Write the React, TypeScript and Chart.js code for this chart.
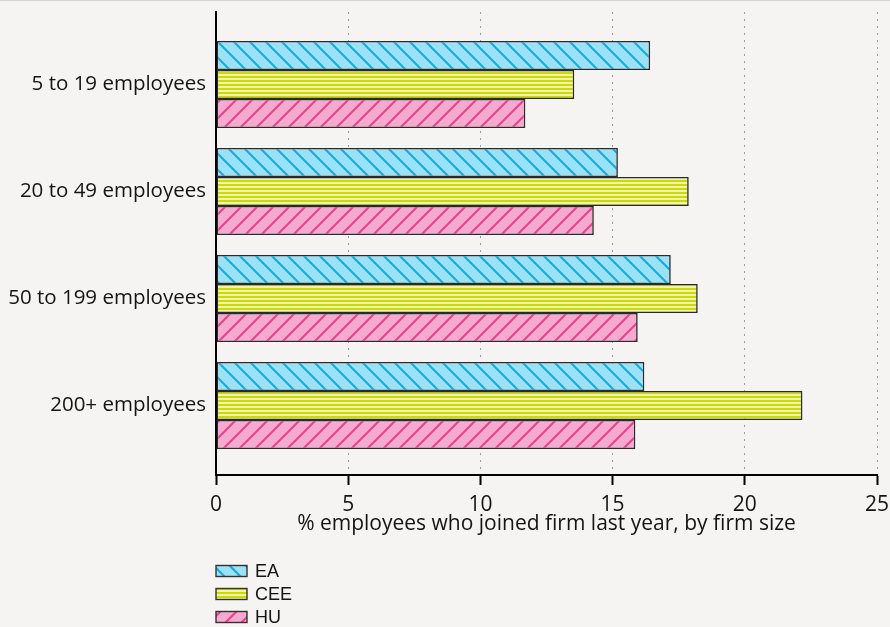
import React, { useEffect, useRef } from 'react';
import { Chart, registerables } from 'chart.js';

Chart.register(...registerables);

const categories = ['5 to 19 employees', '20 to 49 employees', '50 to 199 employees', '200+ employees'];
const seriesNames = ['EA', 'CEE', 'HU'];
const eaValues = [16.42, 15.2, 17.2, 16.2];
const ceeValues = [13.55, 17.88, 18.22, 22.18];
const huValues = [11.7, 14.29, 15.95, 15.86];
const xTickValues = [0, 5, 10, 15, 20, 25];
const xTitle = '% employees who joined firm last year, by firm size';

const TICK_FONT = { family: '"Open Sans", sans-serif', size: 21 };
const Y_TICK_FONT = { family: '"Open Sans", sans-serif', size: 20.5 };
const TEXT_COLOR = '#141414';

function diagPattern(ctx: CanvasRenderingContext2D, bg: string, fg: string, dir: 'down' | 'up') {
  const c = document.createElement('canvas');
  c.width = 16;
  c.height = 16;
  const t = c.getContext('2d')!;
  t.fillStyle = bg;
  t.fillRect(0, 0, 16, 16);
  t.strokeStyle = fg;
  t.lineWidth = 2;
  t.beginPath();
  for (let k = -1; k <= 1; k++) {
    if (dir === 'down') {
      t.moveTo(k * 16 - 2, -2);
      t.lineTo(k * 16 + 18, 18);
    } else {
      t.moveTo(k * 16 - 2, 18);
      t.lineTo(k * 16 + 18, -2);
    }
  }
  t.stroke();
  return ctx.createPattern(c, 'repeat')!;
}

function stripePattern(ctx: CanvasRenderingContext2D, light: string, dark: string) {
  const c = document.createElement('canvas');
  c.width = 4;
  c.height = 4;
  const t = c.getContext('2d')!;
  t.fillStyle = light;
  t.fillRect(0, 0, 4, 4);
  t.fillStyle = dark;
  t.fillRect(0, 0, 4, 2);
  return ctx.createPattern(c, 'repeat')!;
}

const backgroundPlugin = {
  id: 'bgPlugin',
  beforeDraw(chart: any) {
    const ctx = chart.ctx;
    ctx.save();
    ctx.fillStyle = '#f5f4f2';
    ctx.fillRect(0, 0, chart.width, chart.height);
    ctx.strokeStyle = '#d6d4ce';
    ctx.lineWidth = 1;
    ctx.beginPath();
    ctx.moveTo(0, 0.5);
    ctx.lineTo(chart.width, 0.5);
    ctx.stroke();
    ctx.restore();
  },
};

const stackedLegendPlugin = {
  id: 'stackedLegend',
  afterDraw(chart: any) {
    const ctx = chart.ctx;
    const left = chart.chartArea.left;
    const top = chart.chartArea.bottom + 96;
    ctx.save();
    chart.data.datasets.forEach((ds: any, i: number) => {
      const cy = top + i * 23;
      ctx.fillStyle = ds.backgroundColor;
      ctx.fillRect(left, cy - 5.5, 31, 11);
      ctx.strokeStyle = '#333';
      ctx.lineWidth = 1.4;
      ctx.strokeRect(left, cy - 5.5, 31, 11);
      ctx.fillStyle = TEXT_COLOR;
      ctx.font = '18px "Liberation Sans", Arial, sans-serif';
      ctx.textBaseline = 'middle';
      ctx.textAlign = 'left';
      ctx.fillText(ds.label, left + 39, cy + 1);
    });
    ctx.restore();
  },
};

export default function App() {
  const canvasRef = useRef<HTMLCanvasElement | null>(null);

  useEffect(() => {
    document.body.style.margin = '0';
    const canvas = canvasRef.current!;
    const ctx = canvas.getContext('2d')!;
    const eaPattern = diagPattern(ctx, '#9ce2f6', '#17a9d9', 'down');
    const ceePattern = stripePattern(ctx, '#eef3b6', '#cdd900');
    const huPattern = diagPattern(ctx, '#f6aad0', '#e8408e', 'up');
    const patterns = [eaPattern, ceePattern, huPattern];
    const series = [eaValues, ceeValues, huValues];

    const chart = new Chart(canvas, {
      type: 'bar',
      data: {
        datasets: series.map((vals, s) => ({
          label: seriesNames[s],
          data: vals.map((v, i) => ({ x: v, y: i })),
          backgroundColor: patterns[s],
          borderColor: '#2a2a2a',
          borderWidth: 1.6,
          borderSkipped: false,
          categoryPercentage: 0.813,
          barPercentage: 1,
        })),
      },
      options: {
        indexAxis: 'y',
        animation: false,
        responsive: false,
        devicePixelRatio: 1,
        layout: { padding: { top: 12, right: 13, left: 0, bottom: 90 } },
        plugins: {
          legend: { display: false },
          tooltip: { enabled: false },
        },
        scales: {
          x: {
            type: 'linear',
            min: 0,
            max: 25,
            offset: false,
            afterBuildTicks: (s: any) => {
              s.ticks = xTickValues.map((v) => ({ value: v }));
            },
            ticks: { font: TICK_FONT, color: TEXT_COLOR, padding: 7, maxRotation: 0 },
            grid: {
              color: '#9a9a9a',
              lineWidth: 1,
              drawTicks: true,
              tickLength: 10,
              tickColor: '#000',
              tickWidth: 2,
              tickBorderDash: [],
              offset: false,
            },
            border: { display: true, color: '#000', width: 2, dash: [2, 5] },
            title: {
              display: true,
              text: xTitle,
              font: TICK_FONT,
              color: TEXT_COLOR,
              padding: { top: 0, bottom: 0 },
            },
            afterFit: (s: any) => {
              s.height = 62;
              s.paddingLeft = 0;
              s.paddingRight = 0;
            },
          },
          y: {
            type: 'linear',
            reverse: true,
            offset: false,
            bounds: 'data',
            min: -0.6776,
            max: 3.6495,
            afterBuildTicks: (s: any) => {
              s.ticks = categories.map((_, i) => ({ value: i }));
            },
            ticks: {
              font: Y_TICK_FONT,
              color: TEXT_COLOR,
              padding: 10,
              callback: (v: any) => categories[v as number] ?? '',
            },
            grid: { display: false, drawTicks: false, offset: false },
            border: { display: true, color: '#000', width: 2 },
            afterFit: (s: any) => {
              s.width = 216;
              s.paddingTop = 0;
              s.paddingBottom = 0;
            },
          },
        },
      } as any,
      plugins: [backgroundPlugin, stackedLegendPlugin],
    });
    return () => chart.destroy();
  }, []);

  return (
    <div style={{ width: 890, height: 627 }}>
      <canvas ref={canvasRef} width={890} height={627} style={{ display: 'block', width: 890, height: 627 }} />
    </div>
  );
}
